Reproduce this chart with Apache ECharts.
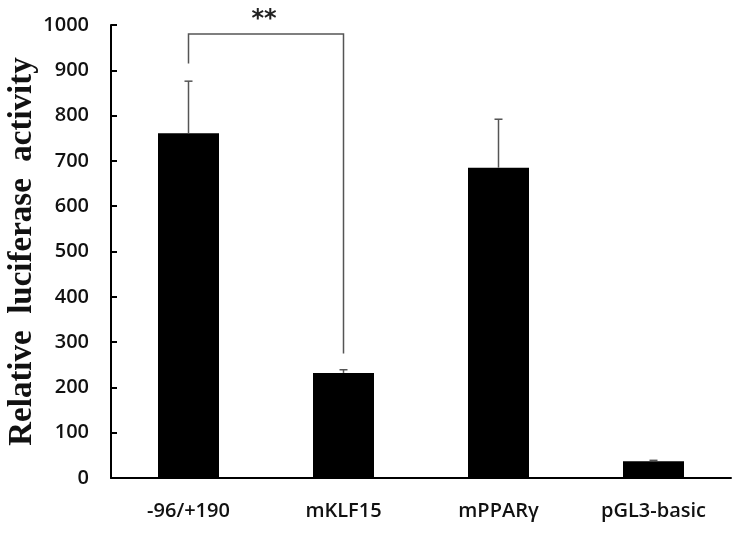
<!DOCTYPE html>
<html>
<head>
<meta charset="utf-8">
<script src="https://cdn.jsdelivr.net/npm/echarts@6/dist/echarts.min.js"></script>
<style>
  html, body { margin: 0; padding: 0; background: #fff; }
  #main { width: 739px; height: 536px; }
</style>
</head>
<body>
<div id="main"></div>
<script>
var categories = ['-96/+190', 'mKLF15', 'mPPARγ', 'pGL3-basic'];
var means = [761, 232, 685, 37];
var errUpper = [876, 239, 792, 39];
var yTicks = [0, 100, 200, 300, 400, 500, 600, 700, 800, 900, 1000];

// significance bracket between first two bars
var bracketFrom = 0;
var bracketTo = 1;
var bracketLevel = 980;
var bracketEnds = [915, 275];
var bracketMark = '**';

var myChart = echarts.init(document.getElementById('main'));

var errData = means.map(function (v, i) {
  return [i, v, errUpper[i]];
});

myChart.setOption({
  animation: false,
  grid: { left: 111, right: 8, top: 25, bottom: 58, containLabel: false, outerBoundsMode: 'none' },
  xAxis: {
    type: 'category',
    data: categories,
    axisLine: { lineStyle: { color: '#000', width: 2 } },
    axisTick: { inside: true, length: 5, lineStyle: { color: '#000', width: 2 } },
    axisLabel: {
      margin: 23,
      color: '#111',
      fontFamily: 'Open Sans',
      fontWeight: 600,
      fontSize: 20
    }
  },
  yAxis: {
    type: 'value',
    min: yTicks[0],
    max: yTicks[yTicks.length - 1],
    interval: 100,
    name: 'Relative  luciferase  activity',
    nameLocation: 'middle',
    nameGap: 72,
    nameMoveOverlap: false,
    nameTextStyle: {
      fontFamily: 'Liberation Serif',
      fontWeight: 'bold',
      fontSize: 33,
      color: '#111'
    },
    splitLine: { show: false },
    axisLine: { show: true, lineStyle: { color: '#000', width: 2 } },
    axisTick: { show: true, inside: true, length: 6, lineStyle: { color: '#000', width: 2 } },
    axisLabel: {
      margin: 22,
      color: '#111',
      fontFamily: 'Open Sans',
      fontWeight: 600,
      fontSize: 20,
      formatter: function (v) { return String(v); }
    }
  },
  series: [
    {
      type: 'bar',
      data: means,
      barWidth: 61,
      itemStyle: { color: '#000' }
    },
    {
      type: 'custom',
      data: errData,
      z: 3,
      renderItem: function (params, api) {
        var x = api.value(0);
        var lo = api.coord([x, api.value(1)]);
        var hi = api.coord([x, api.value(2)]);
        return {
          type: 'group',
          children: [
            {
              type: 'line',
              shape: { x1: lo[0], y1: lo[1], x2: hi[0], y2: hi[1] },
              style: { stroke: '#555', lineWidth: 1.5 }
            },
            {
              type: 'line',
              shape: { x1: hi[0] - 4, y1: hi[1], x2: hi[0] + 4, y2: hi[1] },
              style: { stroke: '#555', lineWidth: 1.5 }
            }
          ]
        };
      }
    },
    {
      type: 'custom',
      clip: false,
      data: [[bracketFrom, bracketTo, bracketLevel, bracketEnds[0], bracketEnds[1]]],
      z: 4,
      renderItem: function (params, api) {
        var a = api.coord([api.value(0), api.value(2)]);
        var b = api.coord([api.value(1), api.value(2)]);
        var aEnd = api.coord([api.value(0), api.value(3)]);
        var bEnd = api.coord([api.value(1), api.value(4)]);
        return {
          type: 'group',
          children: [
            {
              type: 'polyline',
              shape: { points: [[aEnd[0], aEnd[1]], [a[0], a[1]], [b[0], b[1]], [bEnd[0], bEnd[1]]] },
              style: { stroke: '#555', lineWidth: 1.5, fill: null }
            },
            {
              type: 'text',
              style: {
                x: (a[0] + b[0]) / 2 - 2,
                y: a[1] - 2,
                text: bracketMark,
                align: 'center',
                verticalAlign: 'bottom',
                fontFamily: 'DejaVu Sans',
                fontWeight: 'bold',
                fontSize: 24,
                fill: '#222'
              }
            }
          ]
        };
      }
    }
  ]
});
</script>
</body>
</html>
